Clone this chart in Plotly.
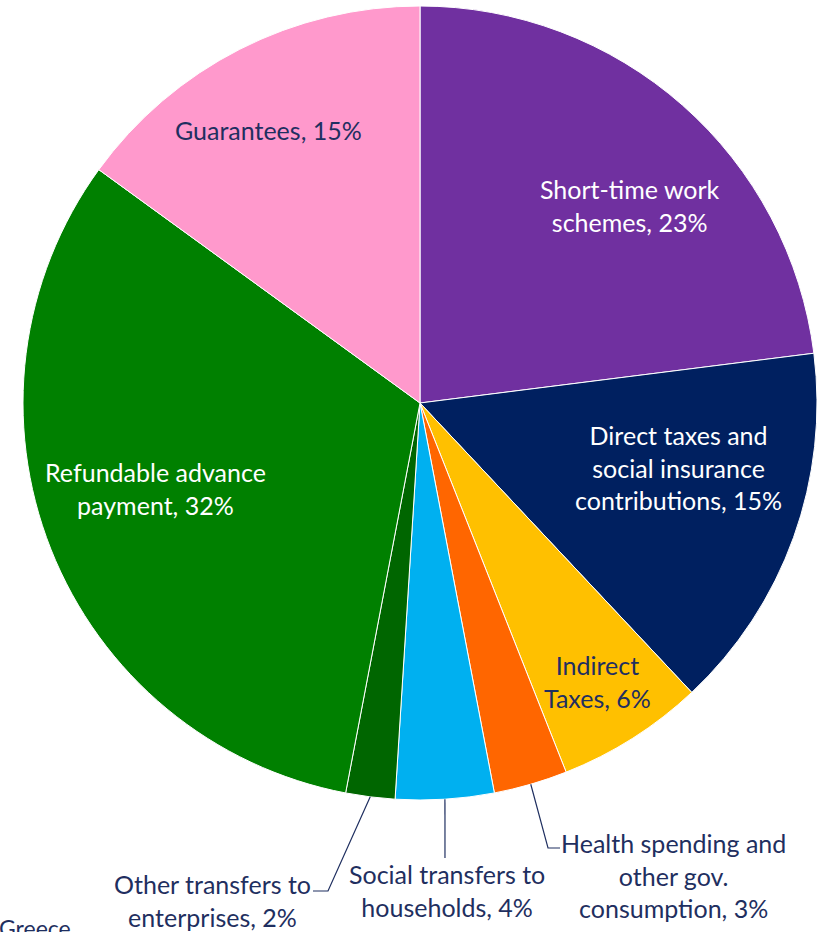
import math
import plotly.graph_objects as go

# Composition of fiscal support measures (share of total, %)
categories = [
    "Short-time work schemes",
    "Direct taxes and social insurance contributions",
    "Indirect Taxes",
    "Health spending and other gov. consumption",
    "Social transfers to households",
    "Other transfers to enterprises",
    "Refundable advance payment",
    "Guarantees",
]
shares = [23, 15, 6, 3, 4, 2, 32, 15]
label_lines = [
    "Short-time work<br>schemes, 23%",
    "Direct taxes and<br>social insurance<br>contributions, 15%",
    "Indirect<br>Taxes, 6%",
    "Health spending and<br>other gov.<br>consumption, 3%",
    "Social transfers to<br>households, 4%",
    "Other transfers to<br>enterprises, 2%",
    "Refundable advance<br>payment, 32%",
    "Guarantees, 15%",
]
colors = ["#7030A0", "#002060", "#FFC000", "#FF6600",
          "#00B0F0", "#006600", "#008000", "#FF99CC"]

W, H = 817, 932
CX, CY, R = 420, 403, 397
NAVY = "#1F2F60"
FONT = "Lato"
FS = 25

# label anchor points (pixels) and text colours
label_pos = [(630, 205), (678, 467), (597, 681), (673, 875),
             (447, 890), (212, 900), (155, 488), (268, 130)]
label_col = ["white", "white", NAVY, NAVY, NAVY, NAVY, "white", NAVY]

fig = go.Figure()
fig.add_trace(go.Pie(
    labels=categories,
    values=shares,
    sort=False,
    direction="clockwise",
    rotation=0,
    marker=dict(colors=colors, line=dict(color="white", width=1)),
    textinfo="none",
    hoverinfo="label+percent",
    showlegend=False,
    domain=dict(x=[(CX - R) / W, (CX + R) / W],
                y=[(H - CY - R) / H, (H - CY + R) / H]),
))

for txt, (x, y), c in zip(label_lines, label_pos, label_col):
    fig.add_annotation(x=x, y=y, xref="x", yref="y", text=txt, showarrow=False,
                       font=dict(family=FONT, size=FS, color=c),
                       align="center", xanchor="center", yanchor="middle")

# leader lines for the three small slices, starting at each slice's mid-angle on the rim
total = sum(shares)
cum = 0
mids = []
for v in shares:
    mids.append((cum + v / 2) / total * 2 * math.pi)
    cum += v

leader_ends = {
    3: [(548, 848), (560, 848)],
    4: [(445, 858)],
    5: [(328, 891), (313, 891)],
}
for i, pts in leader_ends.items():
    a = mids[i]
    x0 = CX + R * math.sin(a)
    y0 = CY - R * math.cos(a)
    path = f"M{x0},{y0}" + "".join(f" L{px},{py}" for px, py in pts)
    fig.add_shape(type="path", path=path, xref="x", yref="y",
                  line=dict(color=NAVY, width=1.2))

fig.add_annotation(x=0, y=912, xref="x", yref="y", xshift=-3, text="Greece",
                   showarrow=False, font=dict(family=FONT, size=23, color=NAVY),
                   xanchor="left", yanchor="top")

fig.update_layout(
    width=W, height=H,
    margin=dict(l=0, r=0, t=0, b=0),
    paper_bgcolor="white", plot_bgcolor="rgba(0,0,0,0)",
    xaxis=dict(range=[0, W], visible=False, fixedrange=True),
    yaxis=dict(range=[H, 0], visible=False, fixedrange=True),
)

fig.write_html("out.html")
